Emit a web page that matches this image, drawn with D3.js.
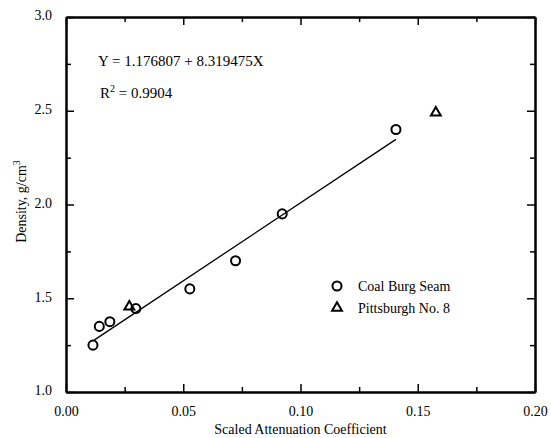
<!DOCTYPE html>
<html>
<head>
<meta charset="utf-8">
<script src="https://cdn.jsdelivr.net/npm/d3@7"></script>
<style>
  body { margin: 0; background: #fff; }
  text { font-family: "Liberation Serif", "DejaVu Serif", serif; fill: #000; }
  .axis path, .axis line { stroke: #000; }
  .axis path { stroke-width: 2; }
  .axis line { stroke-width: 1.5; }
</style>
</head>
<body>
<div id="chart-area"></div>
<script>
// Coal Burg Seam samples
let coalX = [0.0115, 0.0142, 0.0187, 0.0298, 0.0528, 0.0723, 0.0922, 0.1407];
let coalY = [1.25, 1.35, 1.375, 1.445, 1.55, 1.70, 1.95, 2.40];
// Pittsburgh No. 8 samples
let pittX = [0.027, 0.1577];
let pittY = [1.455, 2.49];
// regression
let fitA = 1.176807, fitB = 8.319475;
let fitX = [0.012, 0.1407];

let xMajor = [0.00, 0.05, 0.10, 0.15, 0.20];
let xMinor = [0.025, 0.075, 0.125, 0.175];
let yMajor = [1.0, 1.5, 2.0, 2.5, 3.0];
let yMinor = [1.25, 1.75, 2.25, 2.75];

let margin = {top: 17, right: 16, bottom: 46, left: 66},
  width = 551 - margin.left - margin.right,
  height = 438 - margin.top - margin.bottom;

let svg = d3.select("#chart-area")
  .append("svg")
  .attr("width", 551)
  .attr("height", 438)
  .append("g")
  .attr("transform", "translate(" + margin.left + "," + margin.top + ")");

let x = d3.scaleLinear().domain([0, 0.20]).range([0, width]);
let y = d3.scaleLinear().domain([1.0, 3.0]).range([height, 0]);

// ---- AXES ----
function addAxis(axis, tx, ty, labels) {
  let g = svg.append("g").attr("class", "axis")
    .attr("transform", "translate(" + tx + "," + ty + ")")
    .call(axis);
  if (!labels) g.selectAll("text").remove();
  return g;
}

// major, with labels
let xb = addAxis(d3.axisBottom(x).tickValues(xMajor).tickSize(-8).tickSizeOuter(0).tickPadding(14)
  .tickFormat(d3.format(".2f")), 0, height, true);
xb.selectAll("text").style("font-size", "14px");
let yl = addAxis(d3.axisLeft(y).tickValues(yMajor).tickSize(-8).tickSizeOuter(0).tickPadding(14)
  .tickFormat(d3.format(".1f")), 0, 0, true);
yl.selectAll("text").style("font-size", "14px").attr("dy", "0.2em");

addAxis(d3.axisTop(x).tickValues(xMajor).tickSize(-8).tickSizeOuter(0), 0, 0, false);
addAxis(d3.axisRight(y).tickValues(yMajor).tickSize(-8).tickSizeOuter(0), width, 0, false);

// minor ticks
addAxis(d3.axisBottom(x).tickValues(xMinor).tickSize(-5).tickSizeOuter(0), 0, height, false);
addAxis(d3.axisTop(x).tickValues(xMinor).tickSize(-5).tickSizeOuter(0), 0, 0, false);
addAxis(d3.axisLeft(y).tickValues(yMinor).tickSize(-5).tickSizeOuter(0), 0, 0, false);
addAxis(d3.axisRight(y).tickValues(yMinor).tickSize(-5).tickSizeOuter(0), width, 0, false);

// ---- FIT LINE ----
svg.append("line")
  .attr("x1", x(fitX[0])).attr("y1", y(fitA + fitB * fitX[0]))
  .attr("x2", x(fitX[1])).attr("y2", y(fitA + fitB * fitX[1]))
  .attr("stroke", "#000").attr("stroke-width", 1.3);

// ---- POINTS ----
let circ = d3.symbol().type(d3.symbolCircle).size(64);
let tri = d3.symbol().type(d3.symbolTriangle).size(42);

svg.selectAll(".coal")
  .data(coalX)
  .enter().append("path")
  .attr("class", "coal")
  .attr("d", circ)
  .attr("transform", function(d, i) { return "translate(" + x(d) + "," + y(coalY[i]) + ")"; })
  .attr("fill", "none").attr("stroke", "#000").attr("stroke-width", 2);

svg.selectAll(".pitt")
  .data(pittX)
  .enter().append("path")
  .attr("class", "pitt")
  .attr("d", tri)
  .attr("transform", function(d, i) { return "translate(" + x(d) + "," + y(pittY[i]) + ")"; })
  .attr("fill", "none").attr("stroke", "#000").attr("stroke-width", 2);

// ---- LEGEND ----
let legend = svg.append("g").attr("transform", "translate(271,269)");
legend.append("path").attr("d", circ)
  .attr("fill", "none").attr("stroke", "#000").attr("stroke-width", 2);
legend.append("text").attr("x", 21).attr("y", 5).style("font-size", "14px").text("Coal Burg Seam");
legend.append("path").attr("d", tri).attr("transform", "translate(0,22)")
  .attr("fill", "none").attr("stroke", "#000").attr("stroke-width", 2);
legend.append("text").attr("x", 21).attr("y", 27).style("font-size", "14px").text("Pittsburgh No. 8");

// ---- EQUATION ----
svg.append("text").attr("x", 32).attr("y", 49).style("font-size", "15px")
  .text("Y = 1.176807 + 8.319475X");
let r2 = svg.append("text").attr("x", 34).attr("y", 81).style("font-size", "15px");
r2.append("tspan").text("R");
r2.append("tspan").attr("dy", "-6").style("font-size", "10px").text("2");
r2.append("tspan").attr("dy", "6").text(" = 0.9904");

// ---- AXIS TITLES ----
svg.append("text")
  .attr("transform", "translate(" + (width / 2) + "," + (height + 42) + ")")
  .style("text-anchor", "middle").style("font-size", "14px")
  .text("Scaled Attenuation Coefficient");

let yt = svg.append("text")
  .attr("transform", "translate(" + (-40) + "," + (y(2.0) - 3) + ") rotate(-90)")
  .style("text-anchor", "middle").style("font-size", "14px");
yt.append("tspan").text("Density, g/cm");
yt.append("tspan").attr("dy", "-6").style("font-size", "10px").text("3");
</script>
</body>
</html>
